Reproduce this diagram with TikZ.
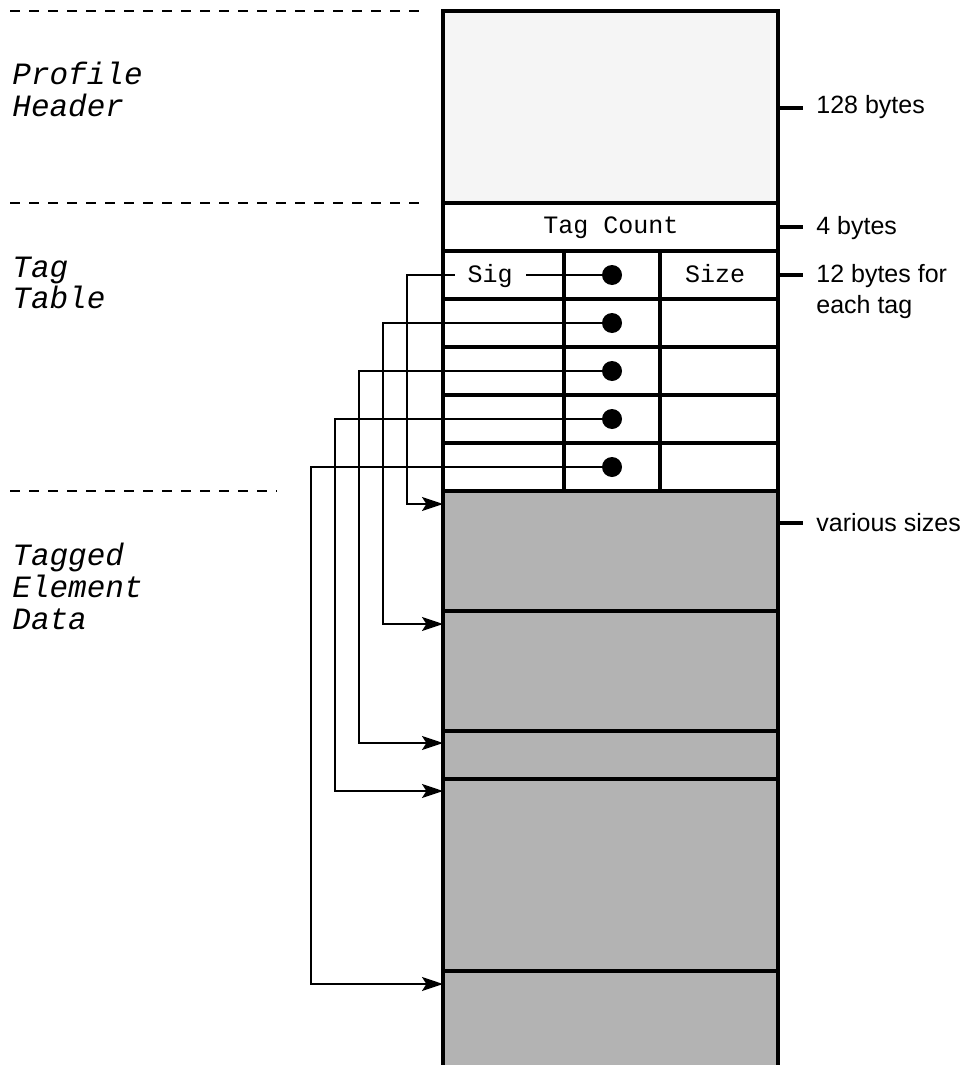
\documentclass[tikz,border=0pt]{standalone}
\usepackage{fontspec}
\newfontfamily\monofnt{Liberation Mono}
\newfontfamily\sansfnt{Liberation Sans}
\usetikzlibrary{arrows.meta}
\definecolor{headfill}{HTML}{F5F5F5}
\definecolor{datafill}{HTML}{B3B3B3}
\begin{document}
\begin{tikzpicture}[x=0.5pt,y=-0.5pt,
  boxline/.style={line width=1.6pt},
  sepline/.style={line width=1pt,dash pattern=on 5pt off 4.5pt},
  arr/.style={line width=1pt,-{Stealth[length=10.5pt,width=7pt,inset=2.2pt]}},
  tickline/.style={line width=1.6pt},
  lbl/.style={anchor=base west,inner sep=0pt,font=\monofnt\itshape\fontsize{15.5pt}{16pt}\selectfont},
  cell/.style={anchor=base,inner sep=0pt,font=\monofnt\fontsize{12.5pt}{14pt}\selectfont},
  note/.style={anchor=base west,inner sep=0pt,font=\sansfnt\fontsize{12.5pt}{14pt}\selectfont},
  dot/.style={circle,fill=black,inner sep=0pt,minimum size=10pt}]
\useasboundingbox (0,0) rectangle (970,1065);
% fills
\fill[headfill] (443,11) rectangle (778,203);
\fill[datafill] (443,491) rectangle (778,1065);
% dashed separators
\draw[sepline] (10,11) -- (420,11);
\draw[sepline] (10,203) -- (420,203);
\draw[sepline] (10,491) -- (277,491);
% box
\draw[boxline] (443,1065) -- (443,11) -- (778,11) -- (778,1065);
\foreach \y in {203,251,299,347,395,443,491,611,731,779,971}
  \draw[boxline] (443,\y) -- (778,\y);
\foreach \x in {564,660}
  \draw[boxline] (\x,251) -- (\x,491);
% side ticks
\draw[tickline] (776,108) -- (803,108);
\draw[tickline] (776,227) -- (803,227);
\draw[tickline] (776,275) -- (803,275);
\draw[tickline] (776,523) -- (803,523);
% dots
\node[dot] (d1) at (612,275) {};
\node[dot] (d2) at (612,323) {};
\node[dot] (d3) at (612,371) {};
\node[dot] (d4) at (612,419) {};
\node[dot] (d5) at (612,467) {};
% targets
\coordinate (t1) at (443,504);
\coordinate (t2) at (443,624);
\coordinate (t3) at (443,743);
\coordinate (t4) at (443,791);
\coordinate (t5) at (443,984);
% connectors
\draw[arr] (d1) -| ([xshift=-18pt]t1) -- (t1);
\draw[arr] (d2) -| ([xshift=-30pt]t2) -- (t2);
\draw[arr] (d3) -| ([xshift=-42pt]t3) -- (t3);
\draw[arr] (d4) -| ([xshift=-54pt]t4) -- (t4);
\draw[arr] (d5) -| ([xshift=-66pt]t5) -- (t5);
% cell texts
\node[cell] (tc) at (611,233) {Tag Count};
\node[cell,fill=white,inner xsep=6.5pt,inner ysep=1pt] (sig) at (490,282) {Sig};
\node[cell] (size) at (715,282) {Size};
% left labels
\node[lbl] (ph1) at (12,85) {Profile};
\node[lbl] (ph2) at (12,117) {Header};
\node[lbl] (tt1) at (12,277) {Tag};
\node[lbl] (tt2) at (12,308) {Table};
\node[lbl] (te1) at (12,565) {Tagged};
\node[lbl] (te2) at (12,597) {Element};
\node[lbl] (te3) at (12,629) {Data};
% right notes
\node[note] (n1) at (816,113) {128 bytes};
\node[note] (n2) at (816,234) {4 bytes};
\node[note] (n3) at (816,282) {12 bytes for};
\node[note] (n4) at (816,313) {each tag};
\node[note] (n5) at (816,531) {various sizes};
\end{tikzpicture}
\end{document}
